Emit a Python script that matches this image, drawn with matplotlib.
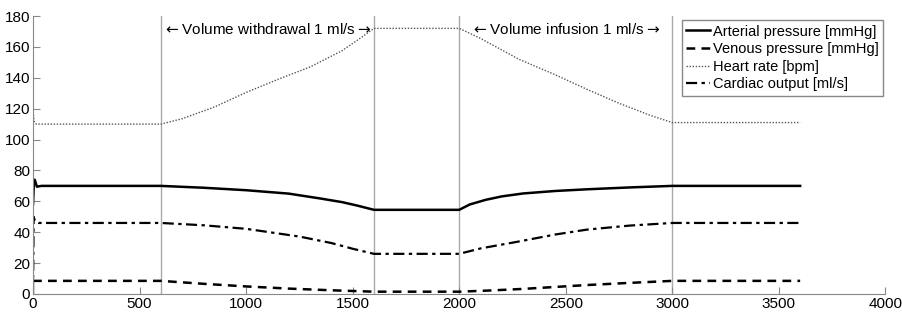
import matplotlib
matplotlib.use("Agg")
import matplotlib.pyplot as plt

plt.rcParams['font.family'] = ['Liberation Sans', 'DejaVu Sans']

# -------------------------------
# Data
# -------------------------------
t_art = [0, 4, 8, 18, 40, 600, 800, 1000, 1200, 1350, 1450, 1520, 1600,
         2000, 2050, 2125, 2200, 2300, 2450, 2600, 2800, 3000, 3600]
arterial = [58, 72, 74, 69.5, 70, 70, 68.8, 67.2, 65, 61.8, 59.5, 57.3, 54.5,
            54.5, 58, 61, 63.2, 65.1, 66.7, 67.8, 69, 70, 70]

t_ven = [0, 600, 800, 1000, 1200, 1400, 1600, 2000, 2150, 2300, 2600, 2800, 3000, 3600]
venous = [8.5, 8.5, 6.6, 4.9, 3.5, 2.4, 1.5, 1.5, 2.3, 3.3, 5.8, 7.2, 8.5, 8.5]

t_hr = [0, 5, 15, 600, 700, 850, 1000, 1150, 1300, 1450, 1550, 1600,
        2000, 2100, 2280, 2450, 2600, 2750, 2900, 3000, 3600]
heart_rate = [118, 112, 110, 110, 113.5, 121, 130.5, 139, 147, 157.5, 167, 172,
              172, 165.5, 152, 142, 132.5, 123.5, 115.5, 111, 111]

t_co = [0, 3, 10, 25, 600, 800, 1000, 1250, 1400, 1500, 1600,
        2000, 2100, 2280, 2450, 2600, 2800, 3000, 3600]
cardiac_output = [0, 50, 47, 46, 46, 44.5, 42.2, 37.2, 33, 29.3, 26,
                  26, 29.5, 34, 38.5, 41.7, 44.3, 46, 46]

phase_bounds = [600, 1600, 2000, 3000]
labels = ['Arterial pressure [mmHg]', 'Venous pressure [mmHg]',
          'Heart rate [bpm]', 'Cardiac output [ml/s]']

# -------------------------------
# Plot
# -------------------------------
fig = plt.figure(figsize=(9.02, 3.12), dpi=100)
ax = fig.add_axes([0.0366, 0.0577, 0.945, 0.891])

for xb in phase_bounds:
    ax.axvline(xb, color='#aaaaaa', lw=1, zorder=1)

ax.plot(t_art, arterial, color='black', lw=1.8, ls='-', label=labels[0])
ax.plot(t_ven, venous, color='black', lw=1.8, ls=(0, (3.5, 2.5)), label=labels[1])
ax.plot(t_hr, heart_rate, color='#555555', lw=1.0, ls=(0, (1, 1.2)), label=labels[2])
ax.plot(t_co, cardiac_output, color='black', lw=1.6, ls=(0, (5, 2, 1.5, 2)), label=labels[3])

ax.text(1100, 171, r'$\leftarrow$Volume withdrawal 1 ml/s$\rightarrow$',
        ha='center', va='center', fontsize=11)
ax.text(2500, 171, r'$\leftarrow$Volume infusion 1 ml/s$\rightarrow$',
        ha='center', va='center', fontsize=11)

ax.set_xlim(0, 4000)
ax.set_ylim(0, 180)
ax.set_xticks(range(0, 4001, 500))
ax.set_yticks(range(0, 181, 20))
ax.tick_params(direction='in', length=5, color='#888888', labelsize=11, pad=2)

for side in ['top', 'right']:
    ax.spines[side].set_visible(False)
for side in ['left', 'bottom']:
    ax.spines[side].set_color('#888888')

leg = ax.legend(loc='upper right', bbox_to_anchor=(0.997, 0.985), fontsize=10.5,
                fancybox=False, edgecolor='#888888', framealpha=1,
                handlelength=1.6, handletextpad=0.2, borderpad=0.3,
                labelspacing=0.25, borderaxespad=0)
leg.get_frame().set_linewidth(1.0)

fig.savefig('out.png', dpi=100)
